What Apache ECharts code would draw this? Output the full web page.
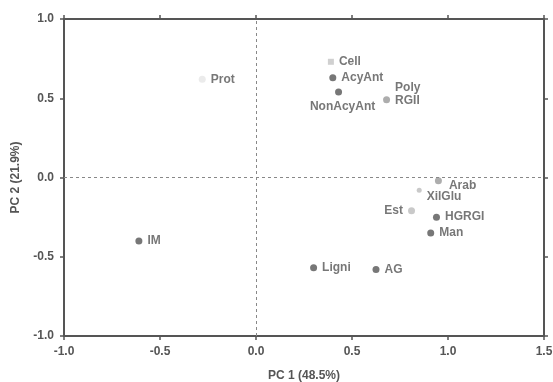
<!DOCTYPE html>
<html>
<head>
<meta charset="utf-8">
<script src="https://cdn.jsdelivr.net/npm/echarts@6/dist/echarts.min.js"></script>
<style>
  html, body { margin: 0; padding: 0; background: #fff; }
  #chart { width: 553px; height: 382px; }
</style>
</head>
<body>
<div id="chart"></div>
<script>
const names = ['Prot', 'Cell', 'AcyAnt', 'NonAcyAnt', 'RGII', 'Arab', 'XilGlu', 'Est', 'HGRGI', 'Man', 'Ligni', 'AG', 'IM'];
const pc1 = [-0.28, 0.39, 0.40, 0.43, 0.68, 0.95, 0.85, 0.81, 0.94, 0.91, 0.30, 0.625, -0.61];
const pc2 = [0.62, 0.73, 0.63, 0.54, 0.49, -0.02, -0.08, -0.21, -0.25, -0.35, -0.57, -0.58, -0.40];
const xTicks = [-1.0, -0.5, 0.0, 0.5, 1.0, 1.5];
const yTicks = [-1.0, -0.5, 0.0, 0.5, 1.0];

// point shade and label placement
const look = {
  Prot: { color: '#e6e6e6', pos: 'right' },
  Cell: { color: '#c4c4c4', pos: 'right', symbol: 'rect', size: 6 },
  AcyAnt: { color: '#555', pos: 'right' },
  NonAcyAnt: { color: '#555', pos: 'bottom', off: [4, 0] },
  RGII: { color: '#999', pos: 'right', text: 'Poly\nRGII', off: [0, -6] },
  Arab: { color: '#999', pos: 'right', off: [2, 5] },
  XilGlu: { color: '#bbb', pos: 'right', off: [0, 7], size: 5 },
  Est: { color: '#bbb', pos: 'left' },
  HGRGI: { color: '#555', pos: 'right' },
  Man: { color: '#555', pos: 'right' },
  Ligni: { color: '#555', pos: 'right' },
  AG: { color: '#555', pos: 'right' },
  IM: { color: '#555', pos: 'right' }
};

const axisColor = '#555';
const labelFont = { color: '#555', fontSize: 12, fontWeight: 'bold', fontFamily: 'Liberation Sans, Arial, sans-serif' };

const points = names.map((n, i) => {
  const s = look[n];
  return {
    name: n,
    value: [pc1[i], pc2[i]],
    symbol: s.symbol || 'circle',
    symbolSize: s.size || 7,
    itemStyle: { color: s.color },
    label: {
      show: true,
      position: s.pos,
      offset: s.off || [0, 0],
      formatter: s.text || n,
      distance: 5,
      lineHeight: 13,
      ...labelFont
    }
  };
});

const myChart = echarts.init(document.getElementById('chart'));

const baseX = {
  type: 'value', min: xTicks[0], max: xTicks[xTicks.length - 1], interval: 0.5,
  axisLine: { show: true, onZero: false, lineStyle: { color: axisColor, width: 2 } },
  axisTick: { show: true, length: 4, lineStyle: { color: axisColor, width: 1.5 } },
  splitLine: { show: false }
};
const baseY = {
  type: 'value', min: yTicks[0], max: yTicks[yTicks.length - 1], interval: 0.5,
  axisLine: { show: true, onZero: false, lineStyle: { color: axisColor, width: 2 } },
  axisTick: { show: true, length: 4, lineStyle: { color: axisColor, width: 1.5 } },
  splitLine: { show: false }
};

const option = {
  animation: false,
  grid: { left: 64, right: 9, top: 19, bottom: 46, outerBoundsMode: 'none', containLabel: false },
  xAxis: [
    {
      ...baseX, position: 'bottom',
      name: 'PC 1 (48.5%)', nameLocation: 'middle', nameGap: 34,
      nameTextStyle: labelFont,
      axisLabel: { ...labelFont, margin: 10, formatter: v => v.toFixed(1) }
    },
    { ...baseX, position: 'top', axisLabel: { show: false } }
  ],
  yAxis: [
    {
      ...baseY, position: 'left',
      name: 'PC 2 (21.9%)', nameLocation: 'middle', nameGap: 42,
      nameTextStyle: labelFont,
      axisLabel: { ...labelFont, margin: 10, formatter: v => v.toFixed(1) }
    },
    { ...baseY, position: 'right', axisLabel: { show: false } }
  ],
  series: [
    {
      type: 'scatter',
      xAxisIndex: 0,
      yAxisIndex: 0,
      data: points,
      markLine: {
        silent: true,
        symbol: 'none',
        label: { show: false },
        lineStyle: { color: '#888', type: [3, 3], width: 1 },
        data: [{ xAxis: 0 }, { yAxis: 0 }]
      }
    }
  ]
};

myChart.setOption(option);
</script>
</body>
</html>
